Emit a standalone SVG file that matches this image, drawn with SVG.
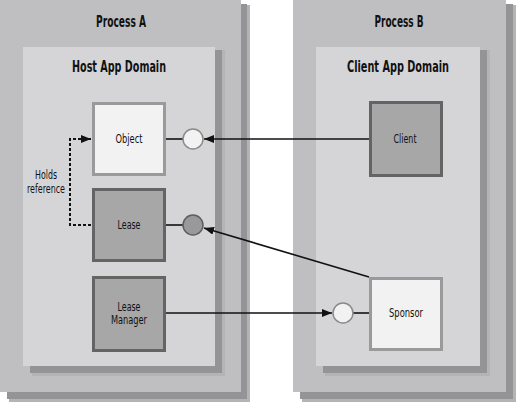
<svg xmlns="http://www.w3.org/2000/svg" width="516" height="402" viewBox="0 0 516 402">
<style>
.sh1{fill:#b4b4b6}
.sh2{fill:#949496}
.proc{fill:#bfbfc1}
.dom{fill:#d5d5d7}
.title{font-family:"Liberation Sans Narrow","DejaVu Sans Condensed","Liberation Sans",sans-serif;font-weight:bold;font-size:16px;fill:#111;text-anchor:middle}
.lbl{font-family:"Liberation Sans Narrow","DejaVu Sans Condensed","Liberation Sans",sans-serif;font-size:13px;fill:#111;text-anchor:middle}
.light{fill:#f2f2f2;stroke:#9a9a9a;stroke-width:3}
.dark{fill:#a7a7a7;stroke:#646464;stroke-width:3}
.conn{stroke:#111;stroke-width:1.6;fill:none}
</style>
<defs>
<marker id="ah" viewBox="0 0 10 8" refX="10" refY="4" markerWidth="10" markerHeight="8" markerUnits="userSpaceOnUse" orient="auto">
<path d="M0,0 L10,4 L0,8 z" fill="#111"/>
</marker>
</defs>
<g id="processA">
<rect class="sh1" x="9" y="5" width="241" height="397"/>
<rect class="sh2" x="7" y="4" width="240" height="395"/>
<rect class="proc" x="0" y="0" width="241" height="392"/>
<text class="title" x="121" y="27" textLength="50" lengthAdjust="spacingAndGlyphs">Process A</text>
</g>
<g id="hostDomain">
<rect class="sh1" x="32" y="50" width="193" height="326"/>
<rect class="sh2" x="30" y="50" width="192" height="323"/>
<rect class="dom" x="23" y="47" width="192" height="319"/>
<text class="title" x="119" y="72" textLength="94" lengthAdjust="spacingAndGlyphs">Host App Domain</text>
</g>
<g id="processB">
<rect class="sh1" x="302" y="5" width="214" height="397"/>
<rect class="sh2" x="300" y="4" width="213" height="395"/>
<rect class="proc" x="293" y="0" width="213" height="392"/>
<text class="title" x="399" y="27" textLength="49" lengthAdjust="spacingAndGlyphs">Process B</text>
</g>
<g id="clientDomain">
<rect class="sh1" x="325" y="50" width="165" height="326"/>
<rect class="sh2" x="323" y="50" width="164" height="323"/>
<rect class="dom" x="316" y="47" width="164" height="319"/>
<text class="title" x="398" y="72" textLength="102" lengthAdjust="spacingAndGlyphs">Client App Domain</text>
</g>
<g id="connectors">
<line class="conn" x1="166" y1="139" x2="183" y2="139"/>
<line class="conn" x1="166" y1="225" x2="183" y2="225"/>
<line class="conn" x1="353" y1="313" x2="369" y2="313"/>
<line class="conn" x1="369" y1="139" x2="204" y2="139" marker-end="url(#ah)"/>
<line class="conn" x1="369" y1="277" x2="204" y2="228" marker-end="url(#ah)"/>
<line class="conn" x1="166" y1="313" x2="332" y2="313" marker-end="url(#ah)"/>
<path d="M91,225 H70 V139 H91" fill="none" stroke="#111" stroke-width="2" stroke-dasharray="3,2" marker-end="url(#ah)"/>
<text class="lbl" x="46" y="179" font-size="10.5" textLength="22" lengthAdjust="spacingAndGlyphs">Holds</text>
<text class="lbl" x="46" y="192.5" font-size="10.5" textLength="38" lengthAdjust="spacingAndGlyphs">reference</text>
</g>
<g id="object">
<rect class="light" x="93.5" y="103.5" width="71" height="71"/>
<text class="lbl" x="129" y="143" textLength="27" lengthAdjust="spacingAndGlyphs">Object</text>
</g>
<g id="objectPort">
<circle cx="193" cy="139" r="10" fill="#f2f2f2" stroke="#8a8a8a" stroke-width="1.5"/>
</g>
<g id="lease">
<rect class="dark" x="93.5" y="189.5" width="71" height="71"/>
<text class="lbl" x="129" y="229" textLength="23" lengthAdjust="spacingAndGlyphs">Lease</text>
</g>
<g id="leasePort">
<circle cx="193" cy="225" r="10" fill="#999" stroke="#5e5e5e" stroke-width="1.5"/>
</g>
<g id="leaseManager">
<rect class="dark" x="93.5" y="277.5" width="71" height="73"/>
<text class="lbl" x="129" y="310.5" font-size="11" textLength="23" lengthAdjust="spacingAndGlyphs">Lease</text>
<text class="lbl" x="129" y="324" font-size="11" textLength="36" lengthAdjust="spacingAndGlyphs">Manager</text>
</g>
<g id="client">
<rect class="dark" x="370.5" y="102.5" width="71" height="73"/>
<text class="lbl" x="405" y="143" textLength="23" lengthAdjust="spacingAndGlyphs">Client</text>
</g>
<g id="sponsor">
<rect class="light" x="370.5" y="278.5" width="71" height="71"/>
<text class="lbl" x="406" y="317" textLength="34" lengthAdjust="spacingAndGlyphs">Sponsor</text>
</g>
<g id="sponsorPort">
<circle cx="343" cy="313" r="10" fill="#f2f2f2" stroke="#8a8a8a" stroke-width="1.5"/>
</g>
</svg>
